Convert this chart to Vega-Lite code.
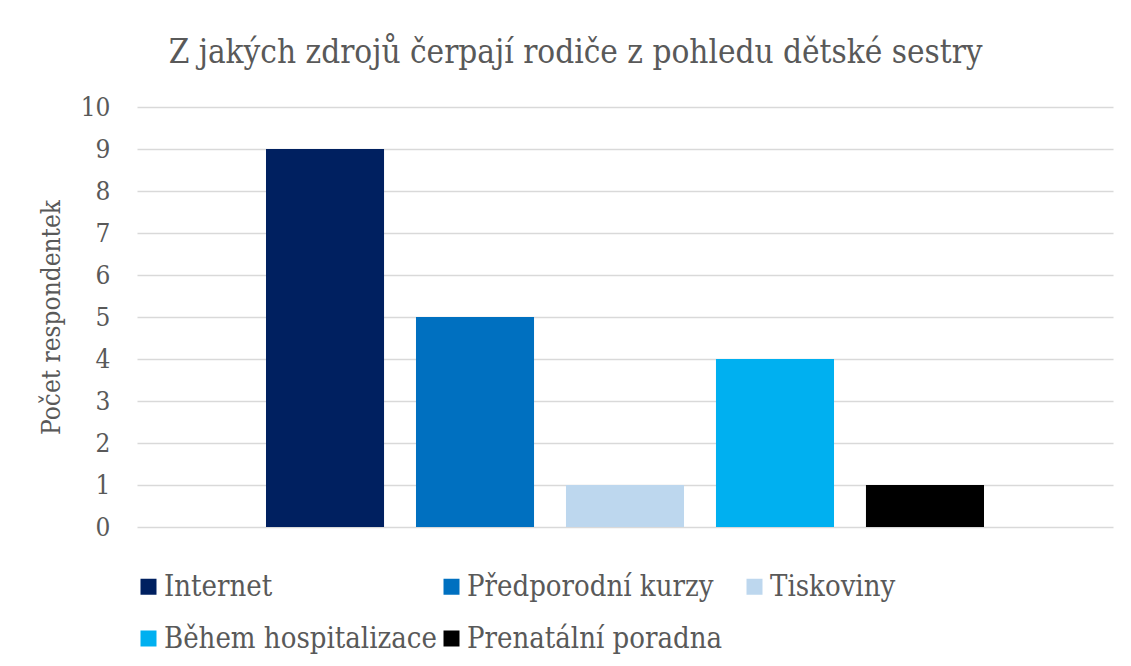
{
  "$schema": "https://vega.github.io/schema/vega-lite/v6.json",
  "autosize": {"type": "none"},
  "width": 976,
  "height": 420,
  "padding": {"left": 137, "top": 107, "right": 18, "bottom": 139},
  "background": "white",
  "title": {
    "text": "Z jakých zdrojů čerpají rodiče z pohledu dětské sestry",
    "font": "DejaVu Serif Condensed",
    "fontSize": 33,
    "fontWeight": "normal",
    "color": "#595959",
    "anchor": "middle",
    "frame": "bounds",
    "offset": 24
  },
  "data": {
    "values": [
      {"zdroj": "Internet", "pocet": 9},
      {"zdroj": "Předporodní kurzy", "pocet": 5},
      {"zdroj": "Tiskoviny", "pocet": 1},
      {"zdroj": "Během hospitalizace", "pocet": 4},
      {"zdroj": "Prenatální poradna", "pocet": 1}
    ]
  },
  "mark": {"type": "bar"},
  "encoding": {
    "x": {
      "field": "zdroj",
      "type": "nominal",
      "sort": ["Internet", "Předporodní kurzy", "Tiskoviny", "Během hospitalizace", "Prenatální poradna"],
      "scale": {"paddingInner": 0.213, "paddingOuter": 0.86},
      "axis": null
    },
    "y": {
      "field": "pocet",
      "type": "quantitative",
      "scale": {"domain": [0, 10], "nice": false},
      "axis": {
        "title": "Počet respondentek",
        "values": [0, 1, 2, 3, 4, 5, 6, 7, 8, 9, 10],
        "grid": true,
        "gridColor": "#d9d9d9",
        "gridWidth": 1.5,
        "domain": false,
        "ticks": false,
        "labelPadding": 27,
        "labelFont": "DejaVu Serif Condensed",
        "labelFontSize": 26,
        "labelColor": "#595959",
        "titleFont": "DejaVu Serif Condensed",
        "titleFontSize": 26,
        "titleFontWeight": "normal",
        "titleColor": "#595959",
        "titlePadding": 16
      }
    },
    "color": {
      "field": "zdroj",
      "type": "nominal",
      "sort": ["Internet", "Předporodní kurzy", "Tiskoviny", "Během hospitalizace", "Prenatální poradna"],
      "scale": {
        "domain": ["Internet", "Předporodní kurzy", "Tiskoviny", "Během hospitalizace", "Prenatální poradna"],
        "range": ["#002060", "#0070c0", "#bdd7ee", "#00b0f0", "#000000"]
      },
      "legend": {
        "title": null,
        "orient": "none",
        "legendX": -3,
        "legendY": 465,
        "direction": "horizontal",
        "columns": 3,
        "gridAlign": "all",
        "columnPadding": 0,
        "rowPadding": 22,
        "symbolType": "square",
        "symbolSize": 256,
        "symbolStrokeWidth": 0,
        "labelOffset": 1,
        "labelFont": "DejaVu Serif Condensed",
        "labelFontSize": 29,
        "labelColor": "#595959",
        "labelLimit": 400
      }
    }
  },
  "config": {"view": {"stroke": null}}
}
